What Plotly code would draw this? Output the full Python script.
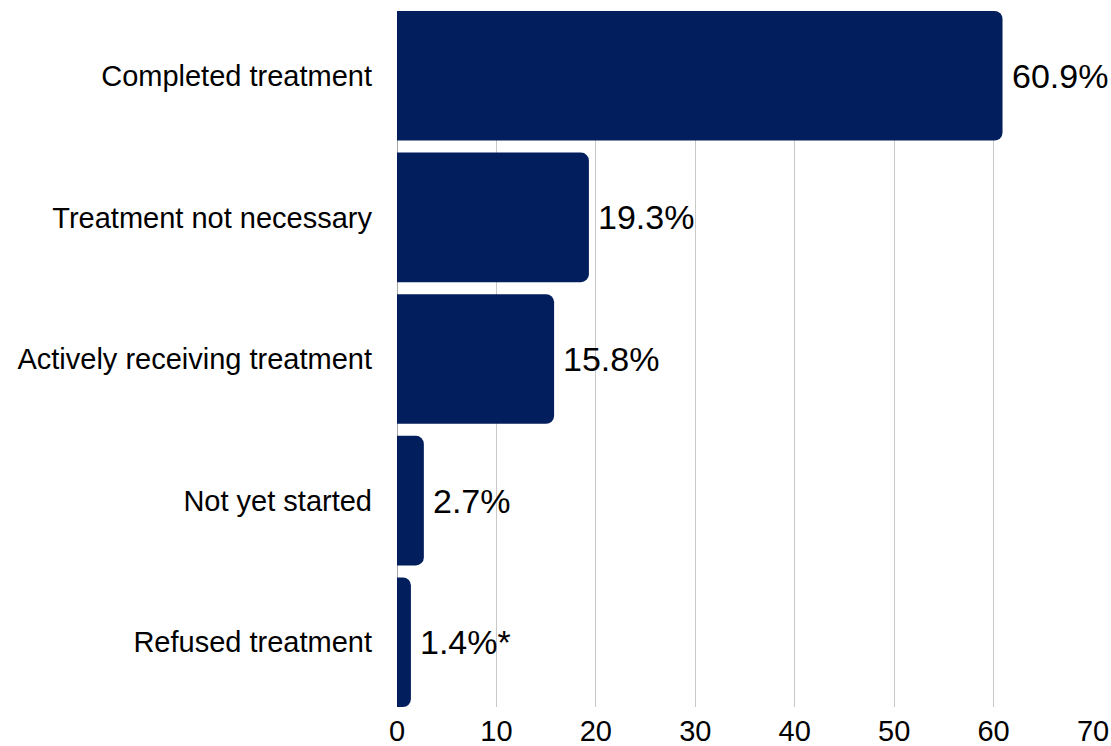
import plotly.graph_objects as go

categories = ["Completed treatment", "Treatment not necessary", "Actively receiving treatment",
              "Not yet started", "Refused treatment"]
values = [60.9, 19.3, 15.8, 2.7, 1.4]
value_labels = ["60.9%", "19.3%", "15.8%", "2.7%", "1.4%*"]
x_ticks = [0, 10, 20, 30, 40, 50, 60, 70]

BAR = "#021e5c"
FONT = "Liberation Sans, Arial, sans-serif"

fig = go.Figure()
fig.add_trace(go.Bar(
    x=values, y=categories, orientation="h",
    marker=dict(color=BAR, line=dict(width=0)),
    hoverinfo="skip",
))

for v, c, t in zip(values, categories, value_labels):
    fig.add_annotation(x=v, y=c, text=t, xanchor="left", yanchor="middle",
                       xshift=7, showarrow=False,
                       font=dict(family=FONT, size=34, color="#000000"))

gap = 0.085
fig.update_layout(
    width=1111, height=746,
    margin=dict(l=397, r=18, t=11, b=39),
    paper_bgcolor="white", plot_bgcolor="white",
    bargap=gap, barcornerradius=8,
    showlegend=False,
    font=dict(family=FONT, color="#000000"),
    xaxis=dict(range=[0, 70], tickvals=x_ticks, showgrid=True, gridcolor="#c8c8c8",
               gridwidth=1, zeroline=True, zerolinecolor="#a6a6a6", zerolinewidth=1,
               showline=False, ticks="", ticklabelstandoff=4, automargin=False,
               tickfont=dict(size=29, family=FONT, color="#000000")),
    yaxis=dict(categoryorder="array", categoryarray=categories, autorange=False,
               range=[len(categories) - 0.5 - gap / 2, -0.5 + gap / 2],
               showgrid=False, zeroline=False, showline=False, ticks="",
               ticklabelstandoff=24, automargin=False,
               tickfont=dict(size=29, family=FONT, color="#000000")),
)

fig.write_html("out.html",
               config={"displayModeBar": False},
               post_script="document.body.style.margin='0';document.body.style.padding='0';"
                           "document.body.style.overflow='hidden';")
